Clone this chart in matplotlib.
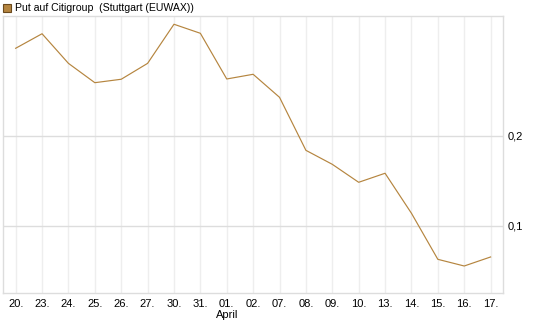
import matplotlib
matplotlib.use('Agg')
from matplotlib import pyplot as plt
from matplotlib.patches import Rectangle

dates = ['20.', '23.', '24.', '25.', '26.', '27.', '30.', '31.', '01.', '02.',
         '07.', '08.', '09.', '10.', '13.', '14.', '15.', '16.', '17.']
prices = [0.2968, 0.3129, 0.2801, 0.2587, 0.2625, 0.2801, 0.3234, 0.3134, 0.2628, 0.2680,
          0.2425, 0.1838, 0.1683, 0.1484, 0.1584, 0.1141, 0.0631, 0.0557, 0.0657]
y_ticks = [0.1, 0.2]
y_labels = ['0,1', '0,2']
series_name = 'Put auf Citigroup  (Stuttgart (EUWAX))'
month_label = 'April'

plt.rcParams['font.family'] = ['Liberation Sans', 'DejaVu Sans']

fig = plt.figure(figsize=(5.45, 3.27), dpi=100)
ax = fig.add_axes([3 / 545, 1 - 293 / 327, 500 / 545, 277.5 / 327])

x = list(range(len(dates)))
ax.plot(x, prices, color='#b5853f', linewidth=0.85)

ax.set_xlim(-0.48, 18.47)
ax.set_ylim(0.0258, 0.3331)
ax.set_xticks(x)
ax.set_xticklabels(dates, fontsize=8)
ax.set_yticks(y_ticks)
ax.set_yticklabels(y_labels, fontsize=8)
ax.yaxis.tick_right()
ax.tick_params(axis='both', length=0, colors='black')
ax.tick_params(axis='x', pad=4)
ax.tick_params(axis='y', pad=3)

ax.grid(axis='x', color='#eeeeee', linewidth=1)
ax.grid(axis='y', color='#dddddd', linewidth=1)
ax.set_axisbelow(True)
for s in ax.spines.values():
    s.set_color('#dddddd')
    s.set_linewidth(1)

ax.text(8, -0.062, month_label, transform=ax.get_xaxis_transform(),
        ha='center', va='top', fontsize=8)

fig.patches.append(Rectangle((3 / 545, 1 - 12 / 327), 8 / 545, 8 / 327,
                             transform=fig.transFigure, facecolor='#b5853f',
                             edgecolor='#6b4a1e', linewidth=0.8))
fig.text(15 / 545, 1 - 8 / 327, series_name, fontsize=7.6, va='center', ha='left')

fig.savefig('out.png', dpi=100)
